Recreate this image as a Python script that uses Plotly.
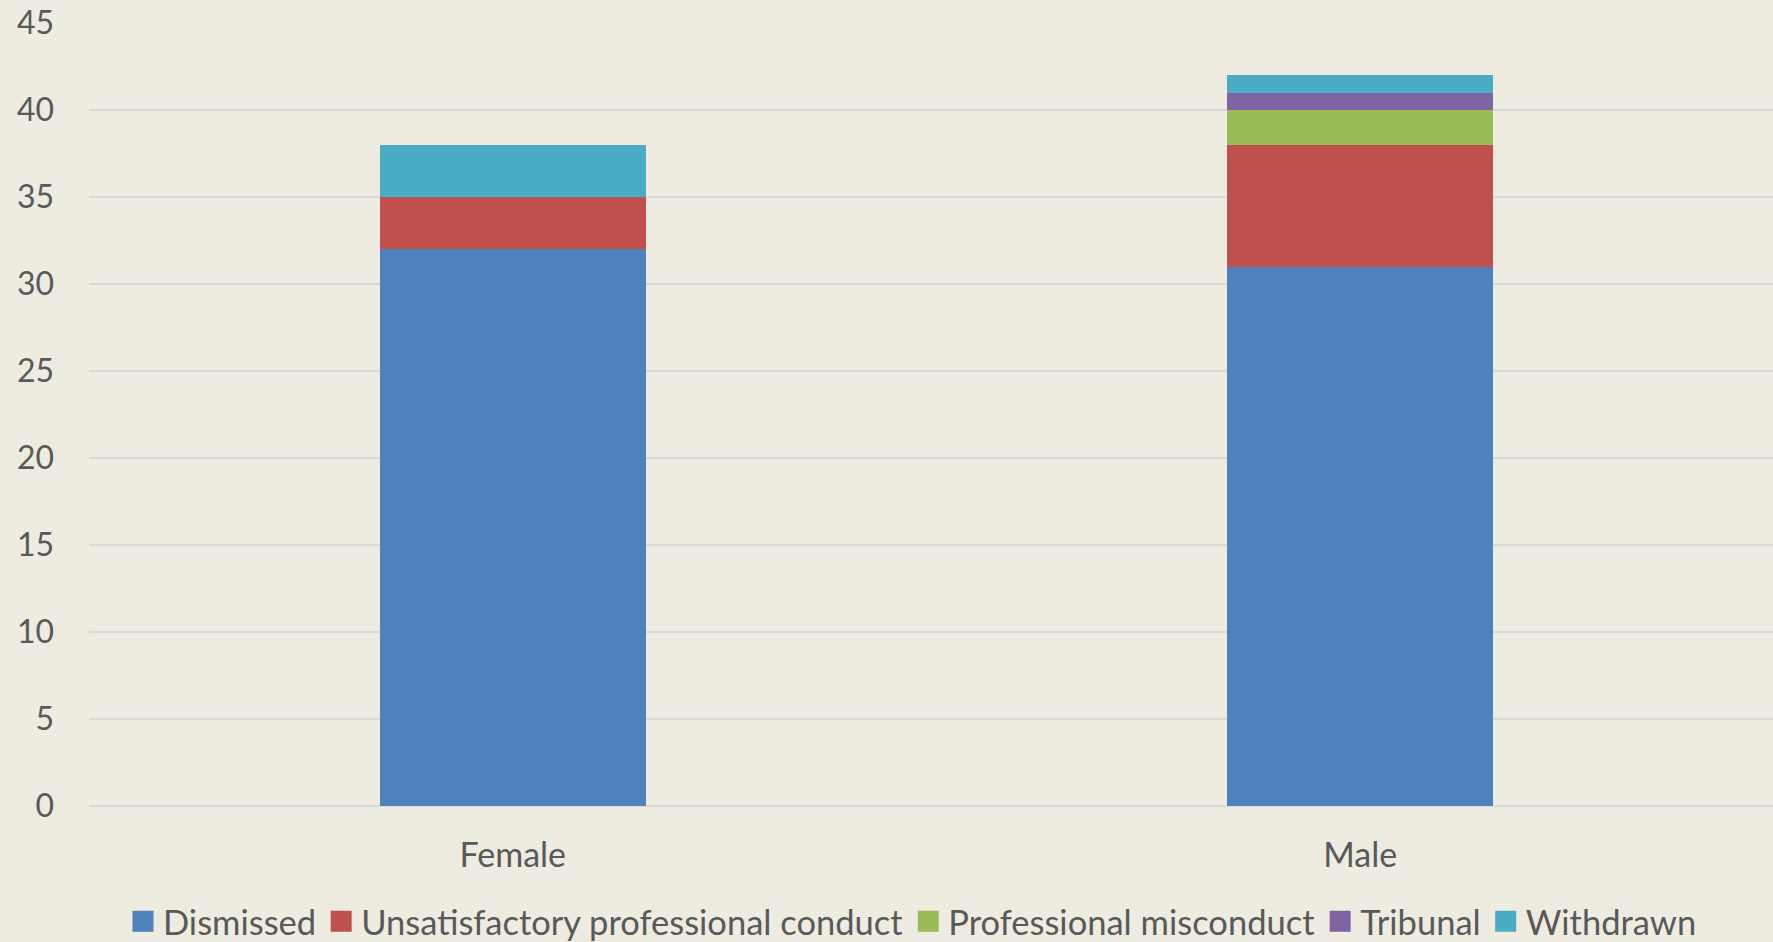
import plotly.graph_objects as go

categories = ["Female", "Male"]
series_names = ["Dismissed", "Unsatisfactory professional conduct", "Professional misconduct", "Tribunal", "Withdrawn"]
dismissed = [32, 31]
unsatisfactory = [3, 7]
prof_misconduct = [0, 2]
tribunal = [0, 1]
withdrawn = [3, 1]
y_ticks = [0, 5, 10, 15, 20, 25, 30, 35, 40, 45]

colors = ["#4F81BD", "#C0504D", "#9BBB59", "#8064A2", "#4BACC6"]
values = [dismissed, unsatisfactory, prof_misconduct, tribunal, withdrawn]

fig = go.Figure()
for name, vals, col in zip(series_names, values, colors):
    fig.add_trace(go.Bar(
        x=categories, y=vals, name=name, legendgroup=name, showlegend=False,
        marker=dict(color=col, line=dict(width=0)),
    ))
# legend entries with larger square swatches
for name, col in zip(series_names, colors):
    fig.add_trace(go.Scatter(
        x=[None], y=[None], mode="markers", name=name, legendgroup=name,
        marker=dict(symbol="square", size=16, color=col, line=dict(color=col, width=5)),
    ))

font_family = "Lato, Open Sans, sans-serif"
fig.update_layout(
    barmode="stack",
    bargap=0.686,
    width=1773, height=942,
    paper_bgcolor="#EEEBE0",
    plot_bgcolor="#EEEBE0",
    margin=dict(l=89, r=0, t=23, b=136),
    font=dict(family=font_family, size=32, color="#595959"),
    showlegend=True,
    legend=dict(
        orientation="h",
        x=0.489, xanchor="center",
        yref="container",
        y=0.022, yanchor="middle",
        font=dict(size=34.5, color="#595959"),
        traceorder="normal",
        itemwidth=30,
        bgcolor="rgba(0,0,0,0)",
        tracegroupgap=0,
    ),
    xaxis=dict(
        range=[-0.5, 1.487],
        showgrid=False,
        showline=False,
        ticks="",
        tickfont=dict(size=34, color="#595959"),
        ticklabelstandoff=26,
    ),
    yaxis=dict(
        range=[0, 45],
        tickvals=y_ticks,
        showgrid=True,
        gridcolor="#D9D9D9",
        gridwidth=2,
        zeroline=True,
        zerolinecolor="#D9D9D9",
        zerolinewidth=2,
        showline=False,
        ticks="",
        tickfont=dict(size=32, color="#595959"),
        ticklabelstandoff=34,
    ),
)

fig.write_html("out.html", config={"displayModeBar": False})
with open("out.html", "r", encoding="utf-8") as f:
    html = f.read()
html = html.replace("<head>", "<head><style>html,body{margin:0;padding:0;overflow:hidden;}</style>", 1)
with open("out.html", "w", encoding="utf-8") as f:
    f.write(html)
